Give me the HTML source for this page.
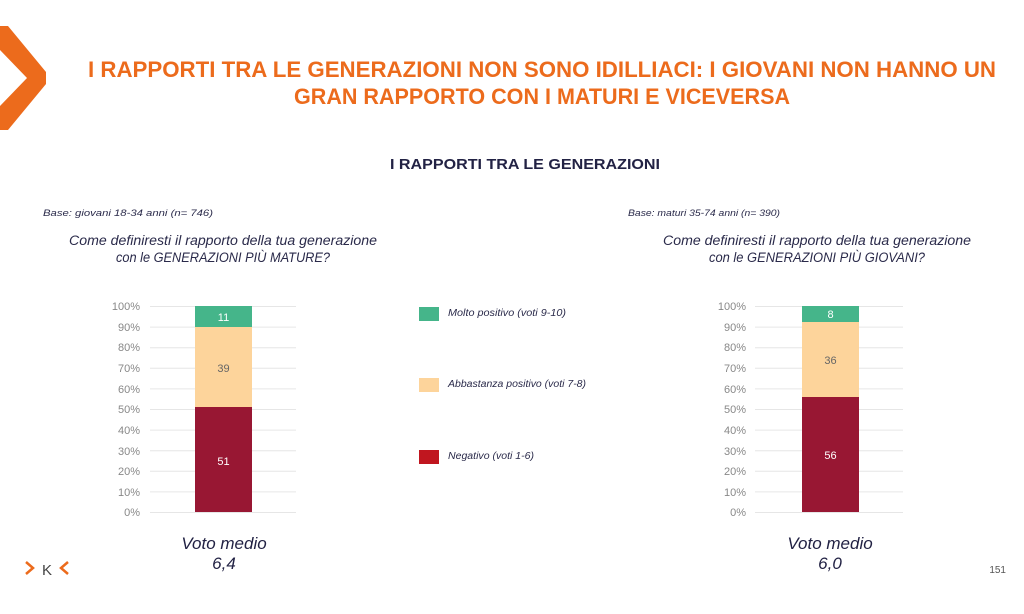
<!DOCTYPE html>
<html><head><meta charset="utf-8"><style>
html,body{margin:0;padding:0;background:#fff;}
svg{display:block;font-family:"Liberation Sans",sans-serif;}
</style></head><body>
<svg width="1024" height="614" viewBox="0 0 1024 614" xmlns="http://www.w3.org/2000/svg">
<rect width="1024" height="614" fill="#fff"/>
<polygon points="0,26 8,26 46,72 46,84 8,130 0,130 0,106 27,78 0,50" fill="#ec6b1c"/>
<g fill="#ec6b1c" font-weight="bold" font-size="22" text-anchor="middle">
<text x="542" y="77" textLength="908" lengthAdjust="spacingAndGlyphs">I RAPPORTI TRA LE GENERAZIONI NON SONO IDILLIACI:  I GIOVANI NON HANNO UN</text>
<text x="542" y="104" textLength="496" lengthAdjust="spacingAndGlyphs">GRAN RAPPORTO CON I MATURI E VICEVERSA</text>
</g>
<text x="525" y="169" text-anchor="middle" font-weight="bold" font-size="15" fill="#222244" textLength="270" lengthAdjust="spacingAndGlyphs">I RAPPORTI TRA LE GENERAZIONI</text>
<g font-style="italic" fill="#2a2a4a">
<text x="43" y="216" font-size="9.5" textLength="170" lengthAdjust="spacingAndGlyphs">Base: giovani 18-34 anni (n= 746)</text>
<text x="628" y="216" font-size="9.5" textLength="152" lengthAdjust="spacingAndGlyphs">Base: maturi 35-74 anni (n= 390)</text>
<g font-size="13.5" text-anchor="middle">
<text x="223" y="245" textLength="308" lengthAdjust="spacingAndGlyphs">Come definiresti il rapporto della tua generazione</text>
<text x="223" y="262" textLength="214" lengthAdjust="spacingAndGlyphs">con le GENERAZIONI PIÙ MATURE?</text>
<text x="817" y="245" textLength="308" lengthAdjust="spacingAndGlyphs">Come definiresti il rapporto della tua generazione</text>
<text x="817" y="262" textLength="216" lengthAdjust="spacingAndGlyphs">con le GENERAZIONI PIÙ GIOVANI?</text>
</g>
<g font-size="10">
<text x="448" y="316" textLength="118" lengthAdjust="spacingAndGlyphs">Molto positivo (voti 9-10)</text>
<text x="448" y="387" textLength="138" lengthAdjust="spacingAndGlyphs">Abbastanza positivo (voti 7-8)</text>
<text x="448" y="459" textLength="86" lengthAdjust="spacingAndGlyphs">Negativo (voti 1-6)</text>
</g>
</g>
<rect x="419" y="307" width="20" height="14" fill="#45b58a"/>
<rect x="419" y="378" width="20" height="14" fill="#fdd49b"/>
<rect x="419" y="450" width="20" height="14" fill="#c0161f"/>
<g stroke="#e6e6e6" stroke-width="1">
<line x1="150" x2="296" y1="306.5" y2="306.5"/><line x1="150" x2="296" y1="327.1" y2="327.1"/><line x1="150" x2="296" y1="347.7" y2="347.7"/><line x1="150" x2="296" y1="368.3" y2="368.3"/><line x1="150" x2="296" y1="388.9" y2="388.9"/><line x1="150" x2="296" y1="409.5" y2="409.5"/><line x1="150" x2="296" y1="430.1" y2="430.1"/><line x1="150" x2="296" y1="450.7" y2="450.7"/><line x1="150" x2="296" y1="471.3" y2="471.3"/><line x1="150" x2="296" y1="491.9" y2="491.9"/><line x1="150" x2="296" y1="512.5" y2="512.5"/>
<line x1="755" x2="903" y1="306.5" y2="306.5"/><line x1="755" x2="903" y1="327.1" y2="327.1"/><line x1="755" x2="903" y1="347.7" y2="347.7"/><line x1="755" x2="903" y1="368.3" y2="368.3"/><line x1="755" x2="903" y1="388.9" y2="388.9"/><line x1="755" x2="903" y1="409.5" y2="409.5"/><line x1="755" x2="903" y1="430.1" y2="430.1"/><line x1="755" x2="903" y1="450.7" y2="450.7"/><line x1="755" x2="903" y1="471.3" y2="471.3"/><line x1="755" x2="903" y1="491.9" y2="491.9"/><line x1="755" x2="903" y1="512.5" y2="512.5"/>
</g>
<g font-size="11" fill="#888" text-anchor="end">
<text x="140" y="310">100%</text><text x="140" y="331">90%</text><text x="140" y="351">80%</text><text x="140" y="372">70%</text><text x="140" y="393">60%</text><text x="140" y="413">50%</text><text x="140" y="434">40%</text><text x="140" y="455">30%</text><text x="140" y="475">20%</text><text x="140" y="496">10%</text><text x="140" y="516">0%</text>
<text x="746" y="310">100%</text><text x="746" y="331">90%</text><text x="746" y="351">80%</text><text x="746" y="372">70%</text><text x="746" y="393">60%</text><text x="746" y="413">50%</text><text x="746" y="434">40%</text><text x="746" y="455">30%</text><text x="746" y="475">20%</text><text x="746" y="496">10%</text><text x="746" y="516">0%</text>
</g>
<rect x="195" y="306" width="57" height="21" fill="#45b58a"/>
<rect x="195" y="327" width="57" height="80" fill="#fdd49b"/>
<rect x="195" y="407" width="57" height="105" fill="#981733"/>
<rect x="802" y="306" width="57" height="16" fill="#45b58a"/>
<rect x="802" y="322" width="57" height="75" fill="#fdd49b"/>
<rect x="802" y="397" width="57" height="115" fill="#981733"/>
<g font-size="11" text-anchor="middle">
<text x="223.5" y="321" fill="#fff">11</text>
<text x="223.5" y="372" fill="#666">39</text>
<text x="223.5" y="465" fill="#fff">51</text>
<text x="830.5" y="318" fill="#fff">8</text>
<text x="830.5" y="364" fill="#666">36</text>
<text x="830.5" y="459" fill="#fff">56</text>
</g>
<g font-size="17" font-style="italic" fill="#222244" text-anchor="middle">
<text x="224" y="549">Voto medio</text><text x="224" y="569">6,4</text>
<text x="830" y="549">Voto medio</text><text x="830" y="569">6,0</text>
</g>
<polyline points="26,562 33,568 26,574" fill="none" stroke="#ec6b1c" stroke-width="2.5"/>
<text x="47" y="575" font-size="15" fill="#444" text-anchor="middle">K</text>
<polyline points="68,562 61,568 68,574" fill="none" stroke="#ec6b1c" stroke-width="2.5"/>
<text x="1006" y="573" font-size="10" fill="#555" text-anchor="end">151</text>
</svg>
</body></html>
